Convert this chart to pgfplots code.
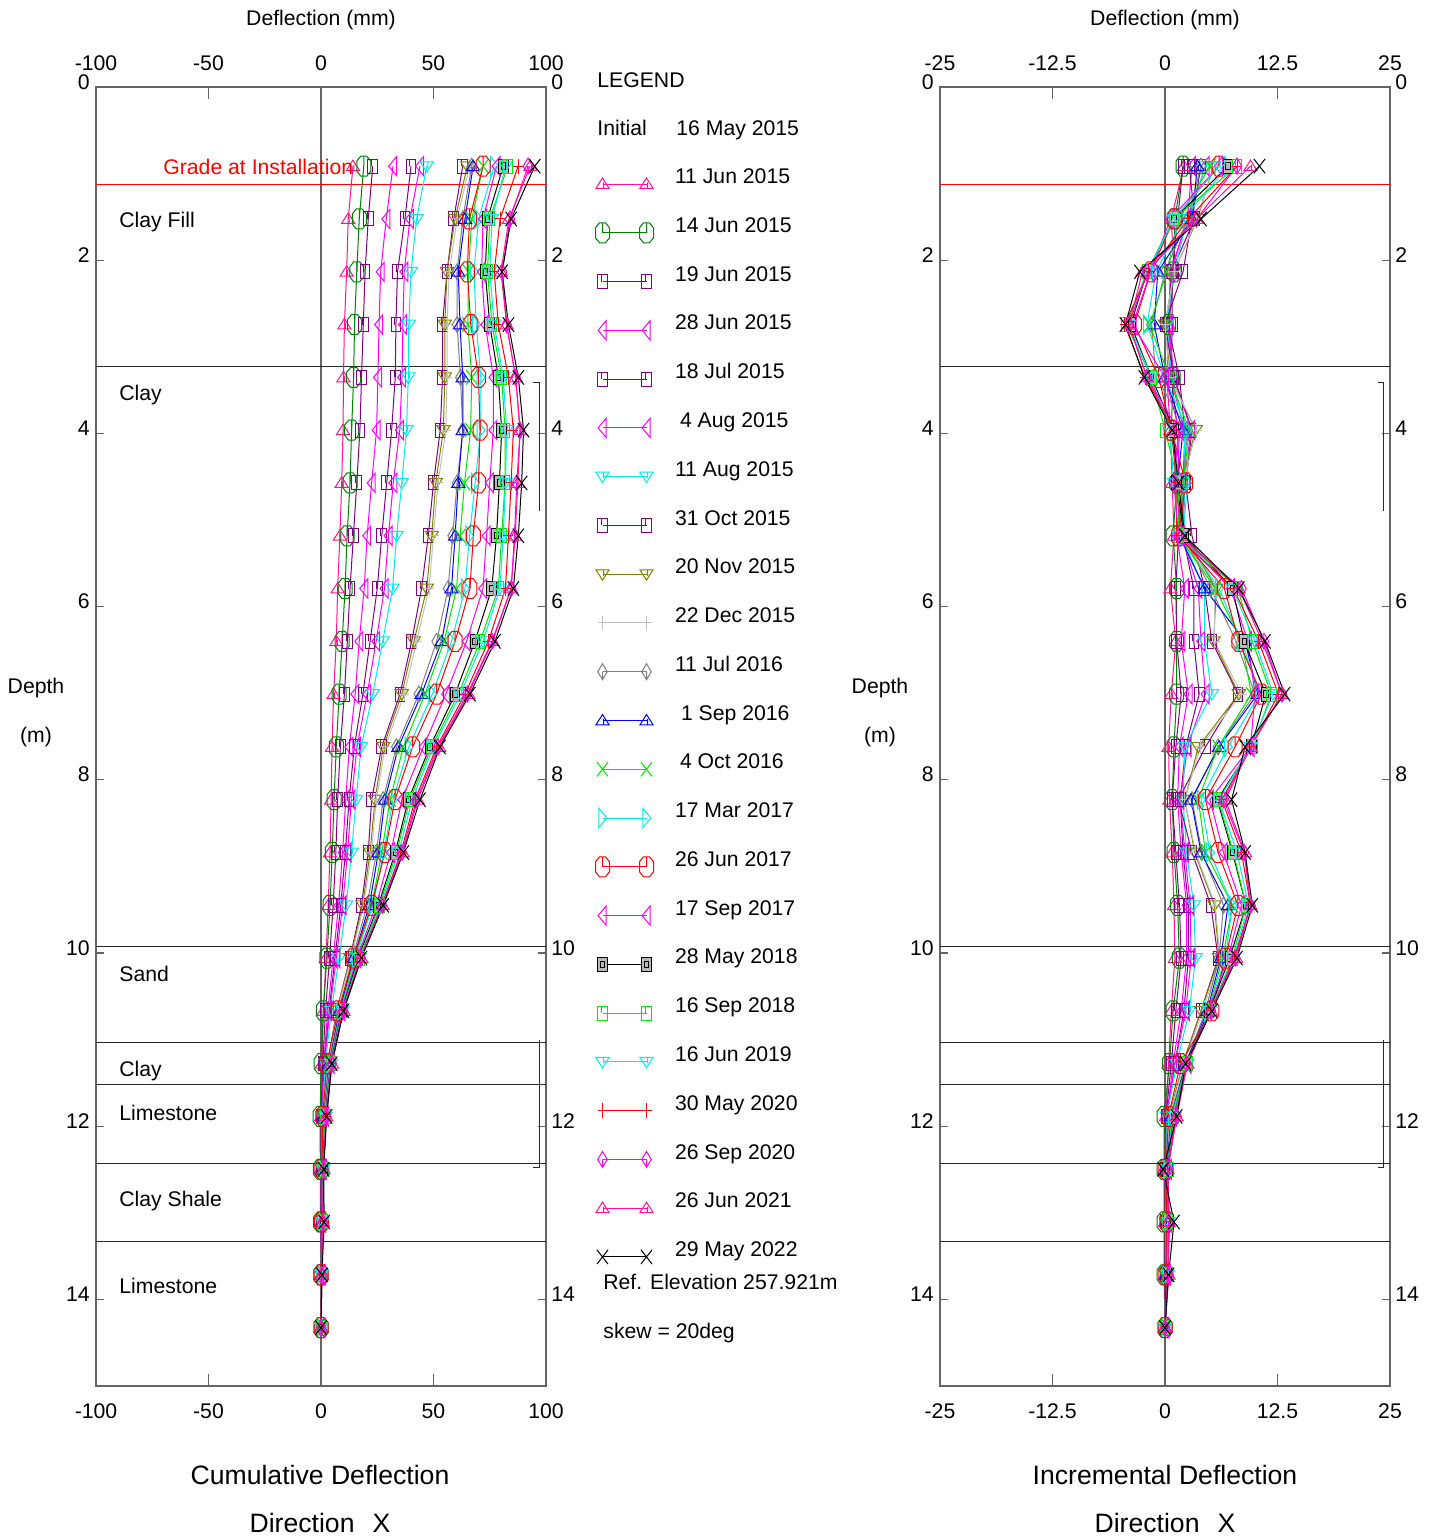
\documentclass[border=0pt]{standalone}
\usepackage{fontspec}
\setmainfont{Liberation Sans}
\setsansfont{Liberation Sans}
\usepackage{pgfplots}
\usepackage{pgfplotstable}
\pgfplotsset{compat=1.18}
\newcommand\tfont{\fontsize{10.6}{12.7}\selectfont}
\newcommand\tbig{\fontsize{13.3}{16}\selectfont}
\definecolor{cpink}{RGB}{255,20,147}
\definecolor{cgreen}{RGB}{0,128,0}
\definecolor{cpurple}{RGB}{128,0,128}
\definecolor{cmag}{RGB}{255,0,255}
\definecolor{ccyan}{RGB}{0,235,235}
\definecolor{colive}{RGB}{128,128,0}
\definecolor{clgray}{RGB}{192,192,192}
\definecolor{cgray}{RGB}{128,128,128}
\definecolor{cblue}{RGB}{0,0,255}
\definecolor{clime}{RGB}{0,230,0}
\definecolor{cred}{RGB}{255,0,0}
\definecolor{cframe}{RGB}{100,100,100}
\definecolor{cline}{RGB}{40,40,40}

\pgfdeclareplotmark{utri}{%
  \pgfpathmoveto{\pgfpoint{-3.3pt}{-2.2pt}}\pgfpathlineto{\pgfpoint{3.3pt}{-2.2pt}}%
  \pgfpathlineto{\pgfpoint{0pt}{3pt}}\pgfpathclose
  \pgfpathmoveto{\pgfpoint{0.5pt}{0.8pt}}\pgfpathlineto{\pgfpoint{0.5pt}{-2.2pt}}%
  \pgfusepathqstroke}
\pgfdeclareplotmark{dtri}{%
  \pgfpathmoveto{\pgfpoint{-3.3pt}{2.2pt}}\pgfpathlineto{\pgfpoint{3.3pt}{2.2pt}}%
  \pgfpathlineto{\pgfpoint{0pt}{-3pt}}\pgfpathclose
  \pgfpathmoveto{\pgfpoint{0.5pt}{-0.8pt}}\pgfpathlineto{\pgfpoint{0.5pt}{2.2pt}}%
  \pgfusepathqstroke}
\pgfdeclareplotmark{ltri}{%
  \pgfpathmoveto{\pgfpoint{-2.2pt}{0pt}}\pgfpathlineto{\pgfpoint{1.8pt}{4.8pt}}%
  \pgfpathlineto{\pgfpoint{1.8pt}{-4.8pt}}\pgfpathclose
  \pgfusepathqstroke}
\pgfdeclareplotmark{rtri}{%
  \pgfpathmoveto{\pgfpoint{2.2pt}{0pt}}\pgfpathlineto{\pgfpoint{-1.8pt}{4.8pt}}%
  \pgfpathlineto{\pgfpoint{-1.8pt}{-4.8pt}}\pgfpathclose
  \pgfusepathqstroke}
\pgfdeclareplotmark{oct}{%
  \pgfpathmoveto{\pgfpoint{-1.5pt}{5pt}}\pgfpathlineto{\pgfpoint{1.5pt}{5pt}}%
  \pgfpathlineto{\pgfpoint{3.5pt}{2.5pt}}\pgfpathlineto{\pgfpoint{3.5pt}{-2.5pt}}%
  \pgfpathlineto{\pgfpoint{1.5pt}{-5pt}}\pgfpathlineto{\pgfpoint{-1.5pt}{-5pt}}%
  \pgfpathlineto{\pgfpoint{-3.5pt}{-2.5pt}}\pgfpathlineto{\pgfpoint{-3.5pt}{2.5pt}}\pgfpathclose
  \pgfpathmoveto{\pgfpoint{0pt}{5pt}}\pgfpathlineto{\pgfpoint{0pt}{0pt}}%
  \pgfusepathqstroke}
\pgfdeclareplotmark{rect}{%
  \pgfpathrectangle{\pgfpoint{-2.4pt}{-3.5pt}}{\pgfpoint{4.8pt}{7pt}}%
  \pgfpathmoveto{\pgfpoint{-0.6pt}{3.5pt}}\pgfpathlineto{\pgfpoint{-0.6pt}{0pt}}%
  \pgfusepathqstroke}
\pgfdeclareplotmark{brect}{%
  \pgfpathrectangle{\pgfpoint{-2.4pt}{-3.5pt}}{\pgfpoint{4.8pt}{7pt}}%
  \pgfsetfillcolor{gray!55}\pgfusepathqfillstroke
  \pgfpathrectangle{\pgfpoint{-1.1pt}{-1.6pt}}{\pgfpoint{2.2pt}{3.2pt}}%
  \pgfusepathqstroke}
\pgfdeclareplotmark{pls}{%
  \pgfpathmoveto{\pgfpoint{-2.5pt}{0pt}}\pgfpathlineto{\pgfpoint{2.5pt}{0pt}}%
  \pgfpathmoveto{\pgfpoint{0pt}{-3.7pt}}\pgfpathlineto{\pgfpoint{0pt}{3.7pt}}%
  \pgfusepathqstroke}
\pgfdeclareplotmark{dia}{%
  \pgfpathmoveto{\pgfpoint{0pt}{4pt}}\pgfpathlineto{\pgfpoint{2.4pt}{0pt}}%
  \pgfpathlineto{\pgfpoint{0pt}{-4pt}}\pgfpathlineto{\pgfpoint{-2.4pt}{0pt}}\pgfpathclose
  \pgfpathmoveto{\pgfpoint{0pt}{0pt}}\pgfpathlineto{\pgfpoint{0pt}{-4pt}}%
  \pgfusepathqstroke}
\pgfdeclareplotmark{xx}{%
  \pgfpathmoveto{\pgfpoint{-2.8pt}{-3.6pt}}\pgfpathlineto{\pgfpoint{2.8pt}{3.6pt}}%
  \pgfpathmoveto{\pgfpoint{-2.8pt}{3.6pt}}\pgfpathlineto{\pgfpoint{2.8pt}{-3.6pt}}%
  \pgfusepathqstroke}

\pgfplotsset{
 ser1/.style={cpink, mark=utri},
 ser2/.style={cgreen, mark=oct},
 ser3/.style={cpurple, mark=rect},
 ser4/.style={cmag, mark=ltri},
 ser5/.style={cpurple, mark=rect},
 ser6/.style={cmag, mark=ltri},
 ser7/.style={ccyan, mark=dtri},
 ser8/.style={cpurple, mark=rect},
 ser9/.style={colive, mark=dtri},
 ser10/.style={clgray, mark=pls},
 ser11/.style={cgray, mark=dia},
 ser12/.style={cblue, mark=utri},
 ser13/.style={clime, mark=xx},
 ser14/.style={ccyan, mark=rtri},
 ser15/.style={cred, mark=oct},
 ser16/.style={cmag, mark=ltri},
 ser17/.style={black, mark=brect},
 ser18/.style={clime, mark=rect},
 ser19/.style={ccyan, mark=dtri},
 ser20/.style={cred, mark=pls},
 ser21/.style={cmag, mark=dia},
 ser22/.style={cpink, mark=utri},
 ser23/.style={black, mark=xx},
 panel/.style={scale only axis, width=225pt, height=649.5pt, anchor=south west,
   ymin=0, ymax=15, y dir=reverse, tick align=inside,
   tick label style={font=\tfont}},
 lpanel/.style={panel, xmin=-100, xmax=100, xtick={-100,-50,0,50,100},
   xticklabels={-100,-50,0,50,100}},
 rpanel/.style={panel, xmin=-25, xmax=25, xtick={-25,-12.5,0,12.5,25},
   xticklabels={-25,-12.5,0,12.5,25}},
 yt/.style={ytick={0,2,4,6,8,10,12,14}, yticklabels={0,2,4,6,8,10,12,14}},
 mainax/.style={xtick=\empty, yt, major tick length=4pt,
   axis line style={cframe, line width=0.65pt}, tick style={cframe, line width=0.65pt},
   yticklabel style={anchor=east, inner sep=0pt, xshift=-3pt, yshift=2.6pt},
   every axis plot/.append style={line width=0.5pt, mark options={solid, line width=0.5pt}}},
 xtax/.style={ytick=\empty, major tick length=6pt, axis line style={draw=none},
   tick style={cframe, line width=0.65pt},
   xticklabel style={anchor=north, inner sep=0pt, yshift=-8.7pt}},
 lblax/.style={yt, axis line style={draw=none}, tick style={draw=none},
   xticklabel pos=upper, yticklabel pos=upper,
   xticklabel style={anchor=south, inner sep=0pt, yshift=8.2pt},
   yticklabel style={anchor=west, inner sep=0pt, xshift=2.5pt, yshift=2.6pt}},
}

% Cumulative deflection (mm), one row per reading date, one column per depth
\pgfplotstableread{
name c1 c2 c3 c4 c5 c6 c7 c8 c9 c10 c11 c12 c13 c14 c15 c16 c17 c18 c19 c20 c21 c22 c23
d 0.914 1.524 2.134 2.743 3.353 3.962 4.572 5.182 5.791 6.401 7.010 7.620 8.230 8.839 9.449 10.058 10.668 11.278 11.887 12.497 13.106 13.716 14.326
s1 14.2 12.1 11.4 10.4 10.0 9.8 9.2 8.4 7.4 6.8 5.6 4.9 4.5 4.0 3.2 2.2 1.1 0.4 0.0 -0.1 0.0 0.0 0.0
s2 19.0 17.0 15.9 14.9 14.5 13.6 12.9 11.6 10.7 9.4 8.1 6.8 5.8 5.0 4.0 2.6 1.0 0.1 -0.4 -0.3 -0.2 -0.1 0.0
s3 23.0 21.0 19.6 18.8 18.0 17.3 15.9 14.4 12.9 11.7 10.4 8.6 7.4 6.6 5.4 3.8 2.0 0.8 0.1 0.0 0.0 0.0 0.0
s4 32.0 29.0 26.5 25.8 25.3 24.7 22.5 20.5 19.2 17.0 15.2 12.6 11.0 9.6 7.8 5.4 3.0 1.2 0.3 0.1 0.1 0.0 0.0
s5 40.0 37.3 34.0 33.3 33.0 31.4 29.2 27.0 25.0 21.8 18.6 14.8 12.5 10.8 8.8 6.2 3.6 1.5 0.4 0.2 0.1 0.0 0.0
s6 44.0 39.5 37.0 36.4 36.0 35.0 32.1 30.0 28.2 24.5 20.5 16.0 13.5 11.8 9.6 6.8 3.9 1.6 0.5 0.3 0.2 0.1 0.0
s7 47.0 42.5 40.0 39.0 38.8 38.0 35.9 33.6 31.8 27.4 23.0 17.8 15.6 13.6 11.2 8.0 4.6 1.9 0.6 0.4 0.2 0.1 0.0
s8 63.0 59.0 56.0 54.0 54.0 53.0 50.0 47.7 44.7 40.3 35.1 27.0 22.5 21.0 18.0 12.9 7.0 3.0 1.0 0.5 0.3 0.1 0.0
s9 65.0 59.6 56.0 55.0 55.0 54.4 51.0 49.2 47.0 41.3 35.9 27.7 24.0 21.8 18.5 13.0 7.0 3.0 1.0 0.5 0.3 0.1 0.0
s10 66.0 60.5 57.0 56.0 56.0 55.5 52.0 50.0 48.0 42.5 37.0 28.5 24.6 22.4 19.0 13.4 7.3 3.1 1.0 0.5 0.3 0.1 0.0
s11 67.0 63.0 60.5 60.5 62.0 63.0 60.5 58.5 56.5 51.4 43.5 33.5 27.6 24.6 20.5 14.0 8.0 3.5 1.2 0.6 0.3 0.1 0.0
s12 67.6 64.0 61.0 61.8 63.0 63.0 61.0 59.6 58.0 53.6 44.7 34.4 28.4 25.5 21.5 14.5 8.3 3.6 1.3 0.6 0.4 0.1 0.0
s13 72.0 67.0 65.5 65.3 67.0 66.5 63.8 61.8 60.3 54.7 46.2 36.6 30.7 27.0 22.5 15.0 8.6 3.8 1.4 0.7 0.4 0.1 0.0
s14 77.0 70.0 68.0 69.0 71.0 71.0 68.5 66.0 64.0 58.0 49.5 39.0 32.0 28.0 23.0 15.5 8.8 4.0 1.5 0.7 0.4 0.1 0.0
s15 72.0 66.0 65.0 66.6 70.0 70.7 70.0 67.7 66.2 59.6 51.4 40.7 32.9 28.4 22.5 14.4 7.7 2.5 0.8 0.4 0.3 0.1 0.0
s16 78.0 72.0 71.4 73.0 76.6 76.6 75.0 73.6 72.0 64.7 55.5 45.5 36.0 31.0 24.5 16.0 9.0 4.2 1.7 0.8 0.5 0.2 0.0
s17 81.0 74.0 73.0 75.0 78.8 80.3 79.3 78.0 75.9 68.4 59.6 48.4 38.8 33.0 25.5 16.5 9.3 4.4 1.9 0.9 0.6 0.2 0.0
s18 83.0 75.0 74.0 76.0 80.3 81.8 81.8 80.3 78.8 70.7 61.0 49.2 39.5 33.6 26.0 17.0 9.5 4.5 2.0 1.0 0.6 0.3 0.0
s19 82.0 76.0 75.0 77.0 81.0 82.5 82.0 81.0 79.5 72.0 62.0 50.0 40.5 34.5 26.5 17.2 9.6 4.6 2.1 1.0 0.7 0.3 0.0
s20 87.6 79.6 77.0 78.8 83.3 85.5 84.5 83.3 82.0 74.4 64.0 51.4 41.8 35.5 27.0 17.5 9.8 4.7 2.3 1.1 0.8 0.3 0.0
s21 92.0 84.0 80.5 82.5 86.5 88.5 87.0 86.0 84.5 76.0 65.0 52.0 42.5 36.0 27.2 17.7 9.9 4.8 2.4 1.1 0.8 0.4 0.0
s22 93.0 83.5 80.0 82.5 86.5 88.5 87.5 86.3 84.5 76.3 65.5 52.5 43.0 36.3 27.4 17.9 10.0 4.9 2.4 1.1 0.8 0.4 0.0
s23 95.0 84.5 80.5 83.3 87.7 90.0 89.2 87.7 85.5 77.3 66.2 52.9 44.0 36.6 27.7 18.0 10.0 4.8 2.5 1.2 1.4 0.4 0.0
}\Crawcum
\pgfplotstabletranspose[colnames from=name]\Ccum{\Crawcum}

% Incremental deflection (mm)
\pgfplotstableread{
name c1 c2 c3 c4 c5 c6 c7 c8 c9 c10 c11 c12 c13 c14 c15 c16 c17 c18 c19 c20 c21 c22 c23
d 0.914 1.524 2.134 2.743 3.353 3.962 4.572 5.182 5.791 6.401 7.010 7.620 8.230 8.839 9.449 10.058 10.668 11.278 11.887 12.497 13.106 13.716 14.326
s1 2.1 0.7 1.0 0.4 0.2 0.6 0.8 1.0 0.6 1.2 0.7 0.4 0.5 0.8 1.0 1.1 0.7 0.4 0.1 -0.1 0.0 0.0 0.0
s2 2.0 1.1 1.0 0.4 0.9 0.7 1.3 0.9 1.3 1.3 1.3 1.0 0.8 1.0 1.4 1.6 0.9 0.5 -0.1 -0.1 -0.1 -0.1 0.0
s3 2.0 1.4 0.8 0.8 0.7 1.4 1.5 1.5 1.2 1.3 1.8 1.2 0.8 1.2 1.6 1.8 1.2 0.7 0.1 0.0 0.0 0.0 0.0
s4 3.0 2.5 0.7 0.5 0.6 2.2 2.0 1.3 2.2 1.8 2.6 1.6 1.4 1.8 2.4 2.4 1.8 0.9 0.2 0.0 0.1 0.0 0.0
s5 2.7 3.3 0.7 0.3 1.6 2.2 2.2 2.0 3.2 3.2 3.8 2.3 1.7 2.0 2.6 2.6 2.1 1.1 0.2 0.1 0.1 0.0 0.0
s6 4.5 2.5 0.6 0.4 1.0 2.9 2.1 1.8 3.7 4.0 4.5 2.5 1.7 2.2 2.8 2.9 2.3 1.1 0.2 0.1 0.1 0.1 0.0
s7 4.5 2.5 1.0 0.2 0.8 2.1 2.3 1.8 4.4 4.4 5.2 2.2 2.0 2.4 3.2 3.4 2.7 1.3 0.2 0.2 0.1 0.1 0.0
s8 4.0 3.0 2.0 0.0 1.0 3.0 2.3 3.0 4.4 5.2 8.1 4.5 1.5 3.0 5.1 5.9 4.0 2.0 0.5 0.2 0.2 0.1 0.0
s9 5.4 3.6 1.0 0.0 0.6 3.4 1.8 2.2 5.7 5.4 8.2 3.7 2.2 3.3 5.5 6.0 4.0 2.0 0.5 0.2 0.2 0.1 0.0
s10 5.5 3.5 1.0 0.0 0.5 3.5 2.0 2.0 5.5 5.5 8.5 3.9 2.2 3.4 5.6 6.1 4.2 2.1 0.5 0.2 0.2 0.1 0.0
s11 4.0 2.5 0.0 -1.5 -1.0 2.5 2.0 2.0 5.1 7.9 10.0 5.9 3.0 4.1 6.5 6.0 4.5 2.3 0.6 0.3 0.2 0.1 0.0
s12 3.6 3.0 -0.8 -1.2 0.0 2.0 1.4 1.6 4.4 8.9 10.3 6.0 2.9 4.0 7.0 6.2 4.7 2.3 0.7 0.2 0.3 0.1 0.0
s13 5.0 1.5 0.2 -1.7 0.5 2.7 2.0 1.5 5.6 8.5 9.6 5.9 3.7 4.5 7.5 6.4 4.8 2.4 0.7 0.3 0.3 0.1 0.0
s14 7.0 2.0 -1.0 -2.0 0.0 2.5 2.5 2.0 6.0 8.5 10.5 7.0 4.0 5.0 7.5 6.7 4.8 2.5 0.8 0.3 0.3 0.1 0.0
s15 6.0 1.0 -1.6 -3.4 -0.7 0.7 2.3 1.5 6.6 8.2 10.7 7.8 4.5 5.9 8.1 6.7 5.2 1.7 0.4 0.1 0.2 0.1 0.0
s16 6.0 0.6 -1.6 -3.6 0.0 1.6 1.4 1.6 7.3 9.2 10.0 9.5 5.0 6.5 8.5 7.0 4.8 2.5 0.9 0.3 0.3 0.2 0.0
s17 7.0 1.0 -2.0 -3.8 -1.5 1.0 1.3 2.1 7.5 8.8 11.2 9.6 5.8 7.5 9.0 7.2 4.9 2.5 1.0 0.3 0.4 0.2 0.0
s18 8.0 1.0 -2.0 -4.3 -1.5 0.0 1.5 1.5 8.1 9.7 11.8 9.7 5.9 7.6 9.0 7.5 5.0 2.5 1.0 0.4 0.3 0.3 0.0
s19 6.0 1.0 -2.0 -4.0 -1.5 0.5 1.0 1.5 7.5 10.0 12.0 9.5 6.0 8.0 9.3 7.6 5.0 2.5 1.1 0.3 0.4 0.3 0.0
s20 8.0 2.6 -1.8 -4.5 -2.2 1.0 1.2 1.3 7.6 10.4 12.6 9.6 6.3 8.5 9.5 7.7 5.1 2.4 1.2 0.3 0.5 0.3 0.0
s21 8.0 3.5 -2.0 -4.0 -2.0 1.5 1.0 1.5 8.5 11.0 13.0 9.5 6.5 8.8 9.5 7.8 5.1 2.4 1.3 0.3 0.4 0.4 0.0
s22 9.5 3.5 -2.5 -4.0 -2.0 1.0 1.2 1.8 8.2 10.8 13.0 9.5 6.7 8.9 9.5 7.9 5.1 2.5 1.3 0.3 0.4 0.4 0.0
s23 10.5 4.0 -2.8 -4.4 -2.3 0.8 1.5 2.2 8.2 11.1 13.3 8.9 7.4 8.9 9.7 8.0 5.2 2.3 1.3 -0.2 1.0 0.4 0.0
}\Crawinc
\pgfplotstabletranspose[colnames from=name]\Cinc{\Crawinc}

\begin{document}
\begin{tikzpicture}
\useasboundingbox (0,0) rectangle (717.5pt,769.5pt);

% ---------------- left panel: cumulative ----------------
\begin{axis}[lpanel, mainax, at={(48pt,76.5pt)},
  legend image code/.code={\draw[#1] plot coordinates {(0pt,0pt) (22pt,0pt)};},
  legend cell align=left,
  legend style={at={(axis description cs:1.1100,0.94411)}, anchor=north west,
    draw=none, fill=none, inner sep=0pt, outer sep=0pt, row sep=0pt, column sep=10.75pt,
    font=\tfont, nodes={inner sep=0pt, text height=12pt, text depth=12.385pt}},
  legend entries={{11 Jun 2015},{14 Jun 2015},{19 Jun 2015},{28 Jun 2015},{18 Jul 2015},
    {\hspace{2.5pt}4 Aug 2015},{11 Aug 2015},{31 Oct 2015},{20 Nov 2015},{22 Dec 2015},
    {11 Jul 2016},{\hspace{3pt}1 Sep 2016},{\hspace{2.5pt}4 Oct 2016},{17 Mar 2017},{26 Jun 2017},
    {17 Sep 2017},{28 May 2018},{16 Sep 2018},{16 Jun 2019},{30 May 2020},
    {26 Sep 2020},{26 Jun 2021},{29 May 2022}}]
\addplot[cframe, line width=0.65pt, mark=none, forget plot] coordinates {(0,0) (0,15)};
\addplot[cred, mark=none, forget plot] coordinates {(-100,1.120) (100,1.120)};
\addplot[cline, mark=none, forget plot] coordinates {(-100,3.222) (100,3.222)};
\addplot[cline, mark=none, forget plot] coordinates {(-100,9.919) (100,9.919)};
\addplot[cline, mark=none, forget plot] coordinates {(-100,11.028) (100,11.028)};
\addplot[cline, mark=none, forget plot] coordinates {(-100,11.524) (100,11.524)};
\addplot[cline, mark=none, forget plot] coordinates {(-100,12.425) (100,12.425)};
\addplot[cline, mark=none, forget plot] coordinates {(-100,13.326) (100,13.326)};
\addplot[cline, mark=none, forget plot] coordinates {(94.1,3.41) (97.0,3.41) (97.0,4.90)};
\addplot[cline, mark=none, forget plot] coordinates {(97.0,11.0) (97.0,12.48) (94.1,12.48)};
\pgfplotsinvokeforeach{1,...,23}{%
  \addplot[ser#1] table[x=s#1, y=d] {\Ccum};
}
\end{axis}
\begin{axis}[lpanel, xtax, at={(48pt,76.5pt)}]
\end{axis}
\begin{axis}[lpanel, lblax, at={(48pt,76.5pt)}]
\end{axis}

% ---------------- right panel: incremental ----------------
\begin{axis}[rpanel, mainax, at={(470pt,76.5pt)}]
\addplot[cframe, line width=0.65pt, mark=none, forget plot] coordinates {(0,0) (0,15)};
\addplot[cred, mark=none, forget plot] coordinates {(-25,1.120) (25,1.120)};
\addplot[cline, mark=none, forget plot] coordinates {(-25,3.222) (25,3.222)};
\addplot[cline, mark=none, forget plot] coordinates {(-25,9.919) (25,9.919)};
\addplot[cline, mark=none, forget plot] coordinates {(-25,11.028) (25,11.028)};
\addplot[cline, mark=none, forget plot] coordinates {(-25,11.524) (25,11.524)};
\addplot[cline, mark=none, forget plot] coordinates {(-25,12.425) (25,12.425)};
\addplot[cline, mark=none, forget plot] coordinates {(-25,13.326) (25,13.326)};
\addplot[cline, mark=none, forget plot] coordinates {(23.67,3.41) (24.33,3.41) (24.33,4.90)};
\addplot[cline, mark=none, forget plot] coordinates {(24.33,11.0) (24.33,12.48) (23.67,12.48)};
\pgfplotsinvokeforeach{1,...,23}{%
  \addplot[ser#1, forget plot] table[x=s#1, y=d] {\Cinc};
}
\end{axis}
\begin{axis}[rpanel, xtax, at={(470pt,76.5pt)}]
\end{axis}
\begin{axis}[rpanel, lblax, at={(470pt,76.5pt)}]
\end{axis}

% ---------------- texts ----------------
\begin{scope}[every node/.style={inner sep=0pt, font=\tfont}]
\node[anchor=base] at (160.5pt,756.75pt) {Deflection (mm)};
\node[anchor=base] at (582.5pt,756.75pt) {Deflection (mm)};
\node[anchor=base west, text=cred] at (81.5pt,682.25pt) {Grade at Installation};
\node[anchor=base west] at (59.5pt,655.75pt) {Clay Fill};
\node[anchor=base west] at (59.5pt,569.25pt) {Clay};
\node[anchor=base west] at (59.5pt,278.75pt) {Sand};
\node[anchor=base west] at (59.5pt,231.25pt) {Clay};
\node[anchor=base west] at (59.5pt,209.25pt) {Limestone};
\node[anchor=base west] at (59.5pt,166.25pt) {Clay Shale};
\node[anchor=base west] at (59.5pt,122.75pt) {Limestone};
\node[anchor=base] at (18pt,422.75pt) {Depth};
\node[anchor=base] at (18pt,398.25pt) {(m)};
\node[anchor=base] at (440pt,422.75pt) {Depth};
\node[anchor=base] at (440pt,398.25pt) {(m)};
\node[anchor=base west] at (298.5pt,725.75pt) {LEGEND};
\node[anchor=base west] at (298.5pt,701.75pt) {Initial};
\node[anchor=base west] at (338pt,701.75pt) {16 May 2015};
\node[anchor=base west] at (301.5pt,124.75pt) {Ref. Elevation 257.921m};
\node[anchor=base west] at (301.5pt,100.25pt) {skew = 20deg};
\node[anchor=base, font=\tbig] at (160pt,27.25pt) {Cumulative Deflection};
\node[anchor=base, font=\tbig] at (160pt,3.25pt) {Direction\hspace{0.68em}X};
\node[anchor=base, font=\tbig] at (582.5pt,27.25pt) {Incremental Deflection};
\node[anchor=base, font=\tbig] at (582.5pt,3.25pt) {Direction\hspace{0.68em}X};
\end{scope}
\end{tikzpicture}
\end{document}
